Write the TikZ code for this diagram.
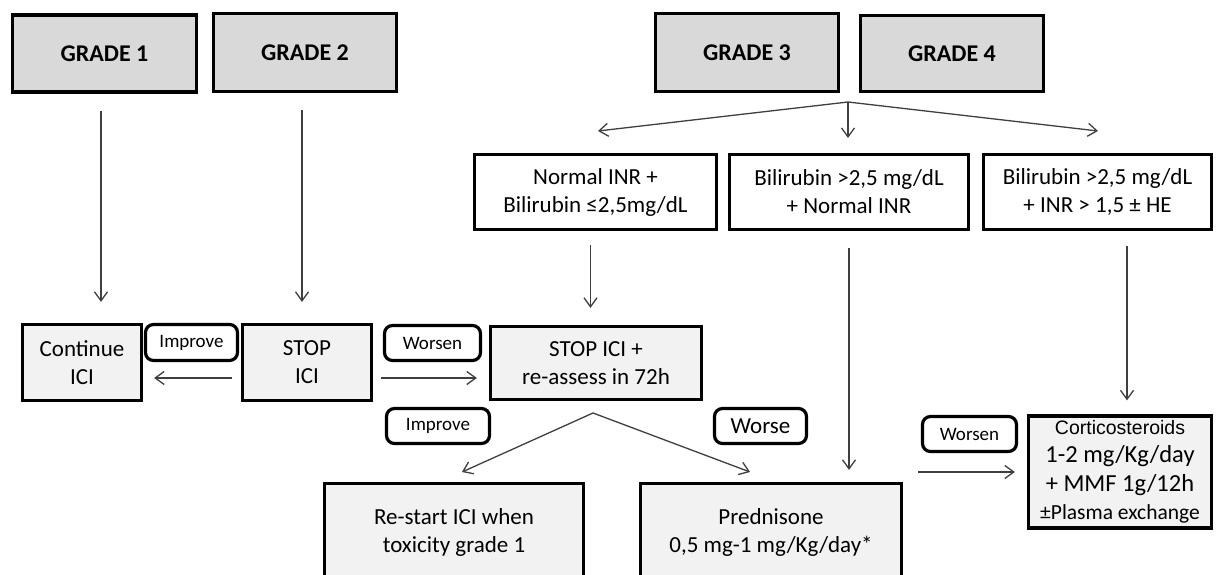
\documentclass[tikz,border=0pt]{standalone}
\usepackage{fontspec}
\setmainfont{Carlito}
\newfontfamily\arialfont{Liberation Sans}
\usetikzlibrary{arrows.meta}

\definecolor{gradegray}{HTML}{D9D9D9}
\definecolor{boxgray}{HTML}{F2F2F2}
\definecolor{arrowgray}{HTML}{3F3F3F}

\begin{document}
\begin{tikzpicture}
	[
	x=1pt, y=-1pt, >={Straight Barb[length=9pt,width=13pt]},
	%Kaesten und Pfeile
	gradebox/.style={draw, line width=3.4pt, fill=gradegray, inner sep=0pt, font=\fontsize{24}{28}\selectfont\bfseries},
	whitebox/.style={draw, line width=3.2pt, fill=white, align=center, inner sep=0pt, font=\fontsize{23}{28}\selectfont},
	graybox/.style={whitebox, fill=boxgray},
	tagbox/.style={draw, line width=3.2pt, rounded corners=8pt, fill=white, inner sep=0pt, font=\fontsize{19}{23}\selectfont},
	arr/.style={->, line width=1.3pt, arrowgray},
	splitline/.style={line width=1.3pt, arrowgray}
	]
	
	\useasboundingbox (0,0) rectangle (1216,575);
	\clip (0,0) rectangle (1216,575);
	
	%Grade
	\node[gradebox, minimum width=184pt, minimum height=77pt] (g1) at (104.5,53.5) {GRADE 1};
	\node[gradebox, minimum width=183pt, minimum height=78pt] (g2) at (305,52.5) {GRADE 2};
	\node[gradebox, minimum width=183pt, minimum height=78pt] (g3) at (747,52.5) {GRADE 3};
	\node[gradebox, minimum width=183pt, minimum height=76pt] (g4) at (952,53.5) {GRADE 4};
	
	%Mittlere Reihe
	\node[whitebox, minimum width=242pt, minimum height=75pt] (inrnorm) at (595.5,192) {Normal INR +\\Bilirubin ≤2,5mg/dL};
	\node[whitebox, minimum width=239pt, minimum height=75pt] (bilinr) at (849,192) {Bilirubin >2,5 mg/dL\\+ Normal INR};
	\node[whitebox, minimum width=228pt, minimum height=75pt] (bilihe) at (1097.5,192) {Bilirubin >2,5 mg/dL\\+ INR > 1,5 ± HE};
	
	%Untere Reihe
	\node[graybox, minimum width=119pt, minimum height=76pt] (cont) at (82,362.5) {Continue\\ICI};
	\node[graybox, minimum width=129pt, minimum height=76pt] (stop) at (307,362.5) {STOP\\ICI};
	\node[graybox, minimum width=211pt, minimum height=73pt] (reassess) at (596,363) {STOP ICI +\\re-assess in 72h};
	\node[graybox, minimum width=259pt, minimum height=97pt] (restart) at (454,532) {Re-start ICI when\\toxicity grade 1};
	\node[graybox, minimum width=261pt, minimum height=97pt] (pred) at (771,532) {Prednisone\\0,5 mg-1 mg/Kg/day*};
	\node[graybox, minimum width=183pt, minimum height=112pt, font=\fontsize{24.5}{28.5}\selectfont] (cortico) at (1120,472)
		{{\arialfont\fontsize{19.5}{28}\selectfont Corticosteroids}\\1-2 mg/Kg/day\\+ MMF 1g/12h\\{\fontsize{21.5}{28}\selectfont ±Plasma exchange}};
	
	%Beschriftungen
	\node[tagbox, minimum width=92pt, minimum height=36pt] (impA) at (191.5,342.5) {Improve};
	\node[tagbox, minimum width=96pt, minimum height=35pt] (worA) at (432.5,343) {Worsen};
	\node[tagbox, minimum width=103pt, minimum height=35pt] (impB) at (438,426) {Improve};
	\node[tagbox, minimum width=92pt, minimum height=35pt, font=\fontsize{23}{28}\selectfont] (worse) at (760.5,426) {Worse};
	\node[tagbox, minimum width=94pt, minimum height=35pt] (worB) at (969.5,434) {Worsen};
	
	%Pfeile Grad 1 und 2
	\draw[arr, shorten <=17pt, shorten >=21pt] ([xshift=-3.5pt]g1.south) -- ([xshift=-3.5pt]g1.south |- cont.north);
	\draw[arr, shorten <=17pt, shorten >=21pt] ([xshift=-3pt]g2.south) -- ([xshift=-3pt]g2.south |- stop.north);
	
	%Verzweigung Grad 3/4
	\coordinate (sp34) at (848,102);
	\coordinate (tipL) at (598,131);
	\coordinate (tipM) at (848,138);
	\coordinate (tipR) at (1098,131);
	\draw[arr] (sp34) -- (tipL);
	\draw[arr] (sp34) -- (tipM);
	\draw[arr] (sp34) -- (tipR);
	
	%Pfeile nach unten
	\draw[arr, shorten <=14pt, shorten >=17pt] ([xshift=-5pt]inrnorm.south) -- ([xshift=-5pt]inrnorm.south |- reassess.north);
	\draw[arr, shorten <=17pt, shorten >=12pt] (bilinr.south) -- (bilinr.south |- pred.north);
	\draw[arr, shorten <=15pt, shorten >=14pt] ([xshift=7pt]cortico.north |- bilihe.south) -- ([xshift=7pt]cortico.north);
	
	%Waagrechte Pfeile
	\draw[arr, shorten <=9pt, shorten >=11pt] ([yshift=-15.5pt]stop.west) -- ([yshift=-15.5pt]stop.west -| cont.east);
	\draw[arr, shorten <=8pt, shorten >=12pt] ([yshift=-15.5pt]stop.east) -- ([yshift=-15.5pt]stop.east -| reassess.west);
	\draw[arr, shorten <=15pt, shorten >=12pt] (cortico.west -| pred.east) -- (cortico.west);
	
	%Verzweigung nach 72h
	\coordinate (sp72) at (593,413);
	\coordinate (tipRs) at (462,472);
	\coordinate (tipPr) at (750,472);
	\draw[arr] (sp72) -- (tipRs);
	\draw[arr] (sp72) -- (tipPr);
\end{tikzpicture}
\end{document}
